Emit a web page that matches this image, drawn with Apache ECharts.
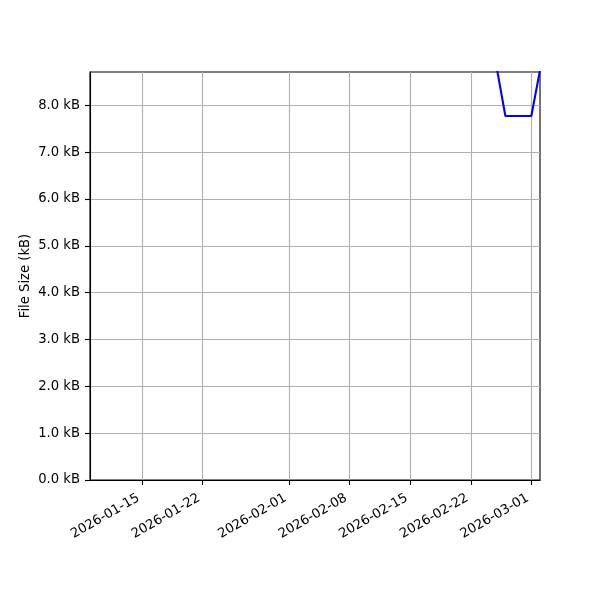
<!DOCTYPE html>
<html><head><meta charset="utf-8">
<script src="https://cdn.jsdelivr.net/npm/echarts@6/dist/echarts.min.js"></script>
<style>html,body{margin:0;padding:0;background:#fff}#c{width:600px;height:600px}</style>
</head><body><div id="c"></div>
<script>
const dates = ['2026-02-25','2026-02-26','2026-02-27','2026-02-28','2026-03-01','2026-03-02'];
const sizesKB = [8.80, 7.77, 7.77, 7.77, 7.77, 8.75];
const xTickDates = ['2026-01-15','2026-01-22','2026-02-01','2026-02-08','2026-02-15','2026-02-22','2026-03-01'];
const xRange = ['2026-01-09', '2026-03-02'];
const yTicks = [0, 1, 2, 3, 4, 5, 6, 7, 8];
const yRange = [0, 8.71];

function ts(d) { const p = d.split('-').map(Number); return Date.UTC(p[0], p[1] - 1, p[2]); }
function fmtDate(v) {
  const d = new Date(v);
  const m = String(d.getUTCMonth() + 1).padStart(2, '0');
  const dd = String(d.getUTCDate()).padStart(2, '0');
  return d.getUTCFullYear() + '-' + m + '-' + dd;
}
const xTicks = xTickDates.map(ts);
const font = 'DejaVu Sans';
const fs = 13.2;

const chart = echarts.init(document.getElementById('c'), null, { renderer: 'canvas' });
chart.setOption({
  animation: false,
  backgroundColor: '#fff',
  grid: { left: 90, top: 72, right: 60, bottom: 120, show: true, borderColor: '#000', borderWidth: 1.1, containLabel: false, outerBoundsMode: 'none' },
  xAxis: {
    type: 'value',
    min: ts(xRange[0]), max: ts(xRange[1]),
    axisLine: { show: true, lineStyle: { color: '#000', width: 1.1 } },
    axisTick: { show: true, customValues: xTicks, length: 5, lineStyle: { color: '#000', width: 1.1 } },
    axisLabel: { show: true, customValues: xTicks, rotate: 30, margin: 15, padding: [0, 4, 0, 0], formatter: v => fmtDate(v), fontFamily: font, fontSize: fs, color: '#000', hideOverlap: false },
    splitLine: { show: true, customValues: xTicks, lineStyle: { color: '#b0b0b0', width: 1.1 } }
  },
  yAxis: {
    type: 'value',
    min: yRange[0], max: yRange[1],
    name: 'File Size (kB)', nameLocation: 'middle', nameRotate: 90, nameGap: 58, nameMoveOverlap: false,
    nameTextStyle: { fontFamily: font, fontSize: fs, color: '#000' },
    axisLine: { show: true, lineStyle: { color: '#000', width: 1.1 } },
    axisTick: { show: true, customValues: yTicks, length: 5, lineStyle: { color: '#000', width: 1.1 } },
    axisLabel: { show: true, customValues: yTicks, margin: 10, formatter: v => v.toFixed(1) + ' kB', fontFamily: font, fontSize: fs, color: '#000' },
    splitLine: { show: true, customValues: yTicks, lineStyle: { color: '#b0b0b0', width: 1.1 } }
  },
  series: [{
    type: 'line',
    data: dates.map((d, i) => [ts(d), sizesKB[i]]),
    showSymbol: false,
    clip: true,
    lineStyle: { color: '#0000ff', width: 2.08 },
    itemStyle: { color: '#0000ff' }
  }]
});
</script></body></html>
